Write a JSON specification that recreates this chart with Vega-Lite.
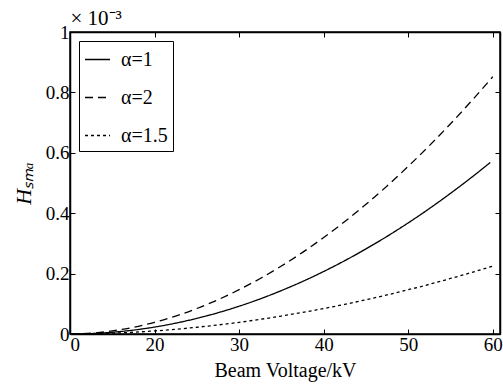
{
  "$schema": "https://vega.github.io/schema/vega-lite/v6.json",
  "width": 430,
  "height": 302,
  "autosize": {"type": "none"},
  "padding": {"left": 70, "top": 32, "right": 3, "bottom": 52},
  "background": "white",
  "config": {
    "view": {"stroke": "black", "strokeWidth": 1.5}
  },
  "data": {"values": [
    {"x": 10, "h": 0, "s": "α=1"},
    {"x": 12.5, "h": 0.0014, "s": "α=1"},
    {"x": 15, "h": 0.0058, "s": "α=1"},
    {"x": 17.5, "h": 0.0129, "s": "α=1"},
    {"x": 20, "h": 0.023, "s": "α=1"},
    {"x": 22.5, "h": 0.0359, "s": "α=1"},
    {"x": 25, "h": 0.0518, "s": "α=1"},
    {"x": 27.5, "h": 0.0704, "s": "α=1"},
    {"x": 30, "h": 0.092, "s": "α=1"},
    {"x": 32.5, "h": 0.1164, "s": "α=1"},
    {"x": 35, "h": 0.1438, "s": "α=1"},
    {"x": 37.5, "h": 0.1739, "s": "α=1"},
    {"x": 40, "h": 0.207, "s": "α=1"},
    {"x": 42.5, "h": 0.2429, "s": "α=1"},
    {"x": 45, "h": 0.2818, "s": "α=1"},
    {"x": 47.5, "h": 0.3234, "s": "α=1"},
    {"x": 50, "h": 0.368, "s": "α=1"},
    {"x": 52.5, "h": 0.4154, "s": "α=1"},
    {"x": 55, "h": 0.4658, "s": "α=1"},
    {"x": 57.5, "h": 0.5189, "s": "α=1"},
    {"x": 59.7, "h": 0.568, "s": "α=1"},
    {"x": 10, "h": 0, "s": "α=2"},
    {"x": 12.5, "h": 0.0027, "s": "α=2"},
    {"x": 15, "h": 0.0102, "s": "α=2"},
    {"x": 17.5, "h": 0.0223, "s": "α=2"},
    {"x": 20, "h": 0.0388, "s": "α=2"},
    {"x": 22.5, "h": 0.0595, "s": "α=2"},
    {"x": 25, "h": 0.0844, "s": "α=2"},
    {"x": 27.5, "h": 0.1135, "s": "α=2"},
    {"x": 30, "h": 0.1467, "s": "α=2"},
    {"x": 32.5, "h": 0.1839, "s": "α=2"},
    {"x": 35, "h": 0.2251, "s": "α=2"},
    {"x": 37.5, "h": 0.2703, "s": "α=2"},
    {"x": 40, "h": 0.3195, "s": "α=2"},
    {"x": 42.5, "h": 0.3725, "s": "α=2"},
    {"x": 45, "h": 0.4295, "s": "α=2"},
    {"x": 47.5, "h": 0.4904, "s": "α=2"},
    {"x": 50, "h": 0.5552, "s": "α=2"},
    {"x": 52.5, "h": 0.6238, "s": "α=2"},
    {"x": 55, "h": 0.6962, "s": "α=2"},
    {"x": 57.5, "h": 0.7723, "s": "α=2"},
    {"x": 60, "h": 0.852, "s": "α=2"},
    {"x": 10, "h": 0, "s": "α=1.5"},
    {"x": 12.5, "h": 0.0007, "s": "α=1.5"},
    {"x": 15, "h": 0.0027, "s": "α=1.5"},
    {"x": 17.5, "h": 0.0059, "s": "α=1.5"},
    {"x": 20, "h": 0.0102, "s": "α=1.5"},
    {"x": 22.5, "h": 0.0157, "s": "α=1.5"},
    {"x": 25, "h": 0.0223, "s": "α=1.5"},
    {"x": 27.5, "h": 0.03, "s": "α=1.5"},
    {"x": 30, "h": 0.0387, "s": "α=1.5"},
    {"x": 32.5, "h": 0.0485, "s": "α=1.5"},
    {"x": 35, "h": 0.0594, "s": "α=1.5"},
    {"x": 37.5, "h": 0.0714, "s": "α=1.5"},
    {"x": 40, "h": 0.0843, "s": "α=1.5"},
    {"x": 42.5, "h": 0.0983, "s": "α=1.5"},
    {"x": 45, "h": 0.1134, "s": "α=1.5"},
    {"x": 47.5, "h": 0.1294, "s": "α=1.5"},
    {"x": 50, "h": 0.1466, "s": "α=1.5"},
    {"x": 52.5, "h": 0.1646, "s": "α=1.5"},
    {"x": 55, "h": 0.1838, "s": "α=1.5"},
    {"x": 57.5, "h": 0.2038, "s": "α=1.5"},
    {"x": 60, "h": 0.225, "s": "α=1.5"}
  ]},
  "resolve": {"axis": {"x": "independent", "y": "independent"}},
  "layer": [
    {
      "mark": {"type": "line", "color": "black", "strokeWidth": 1.3, "interpolate": "monotone"},
      "encoding": {
        "x": {"field": "x", "type": "quantitative", "scale": {"domain": [10, 60.85], "nice": false, "zero": false},
              "axis": {"orient": "bottom", "values": [10, 20, 30, 40, 50, 60], "labelExpr": "datum.value == 10 ? '0' : datum.label",
                       "grid": false, "domainColor": "black", "domainWidth": 1.5, "tickColor": "black", "tickSize": -5,
                       "labelFont": "Liberation Serif", "labelFontSize": 19, "labelColor": "black", "labelPadding": 6,
                       "title": "Beam Voltage/kV", "titleFont": "Liberation Serif", "titleFontSize": 20, "titleFontWeight": "normal", "titleColor": "black", "titlePadding": 6}},
        "y": {"field": "h", "type": "quantitative", "scale": {"domain": [0, 1], "nice": false},
              "axis": {"orient": "left", "values": [0, 0.2, 0.4, 0.6, 0.8, 1], "format": "~g",
                       "grid": false, "domainColor": "black", "domainWidth": 1.5, "tickColor": "black", "tickSize": -5,
                       "labelFont": "Liberation Serif", "labelFontSize": 19, "labelColor": "black", "labelPadding": 6,
                       "title": "Hₛₘₐ", "titleFont": "Liberation Serif", "titleFontStyle": "italic", "titleFontSize": 22, "titleFontWeight": "normal", "titleColor": "black", "titlePadding": 10}},
        "strokeDash": {"field": "s", "type": "nominal",
                       "scale": {"domain": ["α=1", "α=2", "α=1.5"], "range": [[1, 0], [8, 5], [3, 3]]},
                       "legend": {"title": null, "orient": "top-left", "offset": 9, "fillColor": "white", "strokeColor": "black", "padding": 5,
                                  "symbolType": "stroke", "symbolSize": 625, "symbolStrokeWidth": 1.3, "symbolStrokeColor": "black",
                                  "labelFont": "Liberation Serif", "labelFontSize": 20, "labelColor": "black", "labelOffset": 10, "rowPadding": 14,
                                  "labelExpr": "datum.label + '\u2003'"}}
      }
    },
    {
      "mark": {"type": "point", "opacity": 0},
      "encoding": {
        "x": {"field": "x", "type": "quantitative",
              "axis": {"orient": "top", "values": [10, 20, 30, 40, 50, 60], "labels": false,
                       "grid": false, "domainColor": "black", "domainWidth": 1.5, "tickColor": "black", "tickSize": -5,
                       "title": "× 10⁻³", "titleAnchor": "start", "titleAlign": "left", "titleFont": "Liberation Serif", "titleFontSize": 21, "titleFontWeight": "normal", "titleColor": "black", "titlePadding": 3}},
        "y": {"field": "h", "type": "quantitative",
              "axis": {"orient": "right", "values": [0, 0.2, 0.4, 0.6, 0.8, 1], "labels": false, "title": null,
                       "grid": false, "domainColor": "black", "domainWidth": 1.5, "tickColor": "black", "tickSize": -5}}
      }
    }
  ]
}
